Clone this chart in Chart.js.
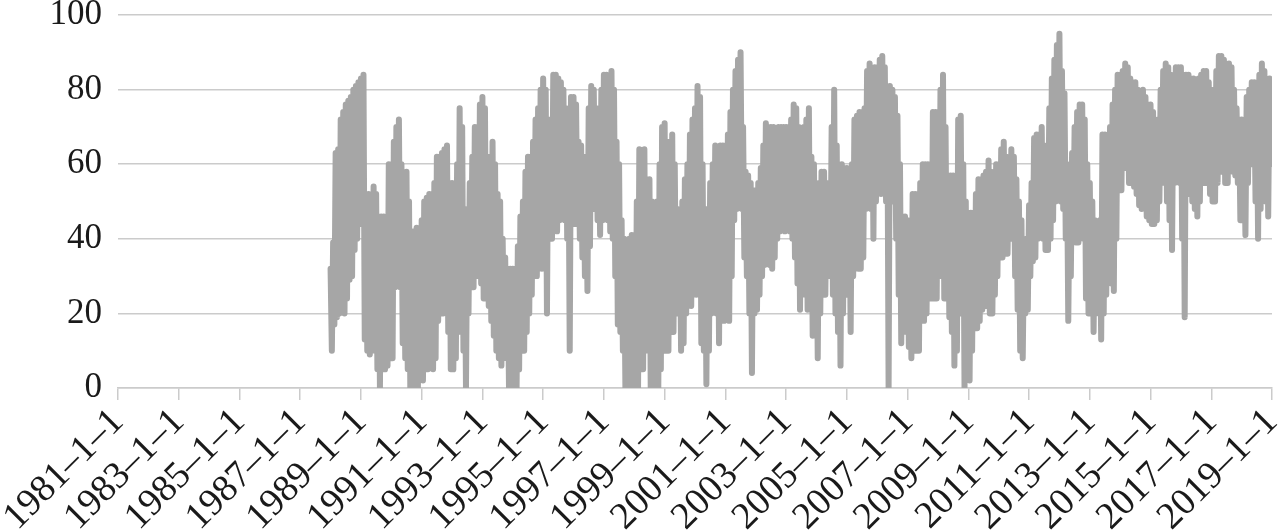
<!DOCTYPE html>
<html>
<head>
<meta charset="utf-8">
<script src="https://cdn.jsdelivr.net/npm/chart.js@4.4.1/dist/chart.umd.min.js"></script>
<style>
  html, body { margin: 0; padding: 0; background: #ffffff; }
  #wrap { width: 1282px; height: 531px; position: relative; }
</style>
</head>
<body>
<div id="wrap"><canvas id="seriesChart"></canvas></div>
<script>
// ==============================
// DATA
// ==============================
const tickYears = [1981, 1983, 1985, 1987, 1989, 1991, 1993, 1995, 1997, 1999,
  2001, 2003, 2005, 2007, 2009, 2011, 2013, 2015, 2017, 2019];
const yTicks = [0, 20, 40, 60, 80, 100];

const firstYear = 1988;
// one row per year, 12 months each: top and bottom of each month's swing
const monthlyHigh = [
  [32, 39, 63, 64, 72, 74, 76, 77, 78, 80, 81, 82],   // 1988
  [83, 84, 52, 52, 50, 54, 52, 46, 46, 46, 45, 60],   // 1989
  [60, 66, 70, 72, 60, 56, 58, 50, 40, 42, 43, 40],   // 1990
  [45, 50, 51, 52, 52, 55, 62, 62, 63, 64, 65, 55],   // 1991
  [55, 50, 60, 75, 70, 48, 45, 55, 62, 70, 70, 76],   // 1992
  [78, 75, 60, 62, 66, 60, 52, 50, 40, 35, 32, 32],   // 1993
  [32, 32, 38, 46, 50, 58, 62, 62, 66, 72, 75, 80],   // 1994
  [83, 80, 72, 72, 84, 84, 83, 82, 80, 75, 70, 78],   // 1995
  [78, 76, 66, 65, 62, 60, 75, 81, 80, 75, 72, 80],   // 1996
  [84, 84, 82, 85, 80, 66, 60, 45, 40, 38, 40, 41],   // 1997
  [41, 50, 64, 60, 64, 56, 56, 50, 45, 50, 60, 70],   // 1998
  [71, 66, 66, 68, 60, 48, 47, 50, 56, 60, 68, 72],   // 1999
  [75, 81, 78, 60, 48, 48, 55, 60, 65, 60, 65, 65],   // 2000
  [65, 68, 74, 80, 85, 88, 90, 70, 58, 57, 55, 53],   // 2001
  [53, 55, 59, 65, 71, 70, 70, 70, 68, 70, 70, 70],   // 2002
  [70, 70, 72, 76, 75, 70, 68, 70, 72, 75, 62, 60],   // 2003
  [50, 55, 58, 58, 55, 50, 70, 80, 65, 55, 60, 59],   // 2004
  [59, 58, 60, 72, 73, 74, 74, 75, 85, 87, 85, 86],   // 2005
  [86, 88, 89, 86, 80, 81, 80, 78, 73, 60, 46, 46],   // 2006
  [45, 42, 52, 52, 52, 55, 60, 60, 60, 60, 74, 74],   // 2007
  [74, 80, 84, 70, 57, 57, 57, 55, 72, 73, 60, 50],   // 2008
  [47, 47, 47, 52, 56, 56, 57, 58, 61, 58, 53, 60],   // 2009
  [60, 64, 66, 62, 60, 64, 62, 56, 50, 45, 37, 40],   // 2010
  [49, 55, 67, 68, 68, 70, 65, 60, 75, 83, 88, 92],   // 2011
  [95, 85, 79, 60, 55, 63, 70, 74, 76, 76, 72, 60],   // 2012
  [55, 50, 45, 40, 45, 68, 68, 65, 70, 76, 80, 84],   // 2013
  [84, 85, 87, 86, 83, 82, 82, 80, 78, 80, 78, 76],   // 2014
  [76, 74, 70, 72, 80, 85, 87, 86, 84, 80, 86, 86],   // 2015
  [86, 84, 84, 84, 83, 83, 82, 83, 84, 85, 85, 82],   // 2016
  [80, 78, 85, 89, 89, 88, 86, 87, 86, 80, 75, 72],   // 2017
  [72, 65, 78, 80, 82, 82, 80, 84, 87, 85, 82, 83]    // 2018
];
const monthlyLow = [
  [10, 17, 19, 20, 21, 20, 24, 29, 30, 37, 40, 44],   // 1988
  [44, 13, 10, 9, 12, 10, 5, 0, 5, 5, 6, 8],          // 1989
  [8, 27, 28, 27, 12, 8, 5, 0, 0, 2, 0, 3],           // 1990
  [2, 5, 5, 6, 5, 8, 18, 20, 20, 22, 15, 5],          // 1991
  [5, 8, 15, 20, 10, 0, 20, 27, 27, 30, 30, 28],      // 1992
  [24, 24, 22, 18, 14, 10, 8, 6, 12, 8, 0, 0],        // 1993
  [0, 0, 5, 10, 10, 15, 20, 25, 34, 30, 34, 32],      // 1994
  [35, 20, 40, 40, 45, 42, 45, 48, 45, 40, 10, 44],   // 1995
  [44, 44, 40, 35, 30, 26, 38, 48, 48, 45, 41, 45],   // 1996
  [48, 45, 42, 40, 30, 17, 15, 10, 0, 0, 0, 0],       // 1997
  [0, 0, 5, 5, 10, 15, 0, 0, 0, 0, 5, 10],            // 1998
  [10, 10, 15, 15, 20, 20, 10, 12, 20, 25, 22, 30],   // 1999
  [25, 30, 12, 10, 1, 10, 20, 25, 20, 12, 18, 18],    // 2000
  [20, 18, 30, 45, 48, 50, 48, 35, 30, 20, 4, 20],    // 2001
  [21, 25, 30, 33, 35, 33, 32, 35, 40, 42, 44, 42],   // 2002
  [44, 42, 40, 35, 28, 21, 30, 25, 21, 25, 14, 20],   // 2003
  [8, 20, 25, 25, 30, 30, 25, 20, 15, 6, 20, 25],     // 2004
  [25, 15, 30, 35, 32, 32, 35, 48, 50, 48, 40, 50],   // 2005
  [55, 52, 55, 50, 0, 50, 50, 40, 25, 12, 20, 15],    // 2006
  [11, 8, 10, 10, 10, 18, 18, 20, 24, 24, 24, 24],    // 2007
  [30, 30, 24, 24, 19, 15, 6, 10, 20, 20, 0, 5],      // 2008
  [2, 10, 16, 16, 18, 21, 22, 22, 20, 20, 25, 30],    // 2009
  [35, 35, 36, 36, 40, 40, 30, 21, 10, 8, 20, 21],    // 2010
  [30, 34, 35, 40, 42, 40, 37, 37, 40, 45, 50, 51],   // 2011
  [50, 48, 40, 18, 30, 40, 39, 39, 45, 40, 24, 20],   // 2012
  [20, 15, 20, 25, 13, 20, 25, 30, 28, 26, 40, 53],   // 2013
  [53, 59, 59, 55, 55, 54, 52, 49, 48, 50, 46, 45],   // 2014
  [44, 44, 45, 50, 55, 56, 50, 45, 37, 55, 57, 55],   // 2015
  [40, 19, 52, 52, 50, 48, 46, 50, 55, 55, 55, 52],   // 2016
  [50, 50, 55, 58, 58, 55, 55, 60, 58, 57, 55, 45],   // 2017
  [45, 41, 55, 60, 60, 50, 40, 48, 55, 50, 46, 60]    // 2018
];
const lastValue = 80; // 2019-1-1

// ==============================
// CHART
// ==============================
const points = [];
monthlyHigh.forEach((row, i) => {
  row.forEach((hi, m) => {
    points.push({ x: firstYear + i + m / 12, y: hi });
    points.push({ x: firstYear + i + (m + 0.5) / 12, y: monthlyLow[i][m] });
  });
});
points.push({ x: firstYear + monthlyHigh.length, y: lastValue });

const serif = "'Liberation Serif', 'Times New Roman', serif";
const textColor = "#1a1a1a";
const gridColor = "#cbcbcb";

new Chart(document.getElementById("seriesChart").getContext("2d"), {
  type: "line",
  data: {
    datasets: [
      {
        data: points,
        borderColor: "#a6a6a6",
        borderWidth: 6,
        borderCapStyle: "round",
        borderJoinStyle: "round",
        pointRadius: 0,
        tension: 0,
        fill: false
      }
    ]
  },
  options: {
    responsive: true,
    maintainAspectRatio: false,
    animation: false,
    events: [],
    layout: { padding: { top: 0, right: 10, left: 0, bottom: 0 } },
    plugins: { legend: { display: false }, tooltip: { enabled: false } },
    scales: {
      x: {
        type: "linear",
        min: tickYears[0],
        max: tickYears[tickYears.length - 1],
        afterBuildTicks: axis => { axis.ticks = tickYears.map(v => ({ value: v })); },
        afterFit: axis => {
          axis.height = 143;
          axis.paddingRight = 0;
          axis.paddingLeft = 0;
        },
        grid: { drawOnChartArea: false, drawTicks: true, tickLength: 12, color: gridColor, lineWidth: 1.5 },
        border: { color: gridColor, width: 1.5 },
        ticks: {
          autoSkip: false,
          minRotation: 45,
          maxRotation: 45,
          padding: 0,
          color: textColor,
          font: { family: serif, size: 38 },
          callback: v => `${v}–1–1`
        }
      },
      y: {
        min: 0,
        max: 100,
        afterBuildTicks: axis => { axis.ticks = yTicks.map(v => ({ value: v })); },
        afterFit: axis => { axis.width = 118; },
        grid: { color: gridColor, lineWidth: 1.5, drawTicks: true, tickLength: 16, tickColor: "rgba(0,0,0,0)" },
        border: { display: false },
        ticks: {
          padding: 0,
          color: textColor,
          font: { family: serif, size: 35, lineHeight: 0.86 }
        }
      }
    }
  }
});
</script>
</body>
</html>
